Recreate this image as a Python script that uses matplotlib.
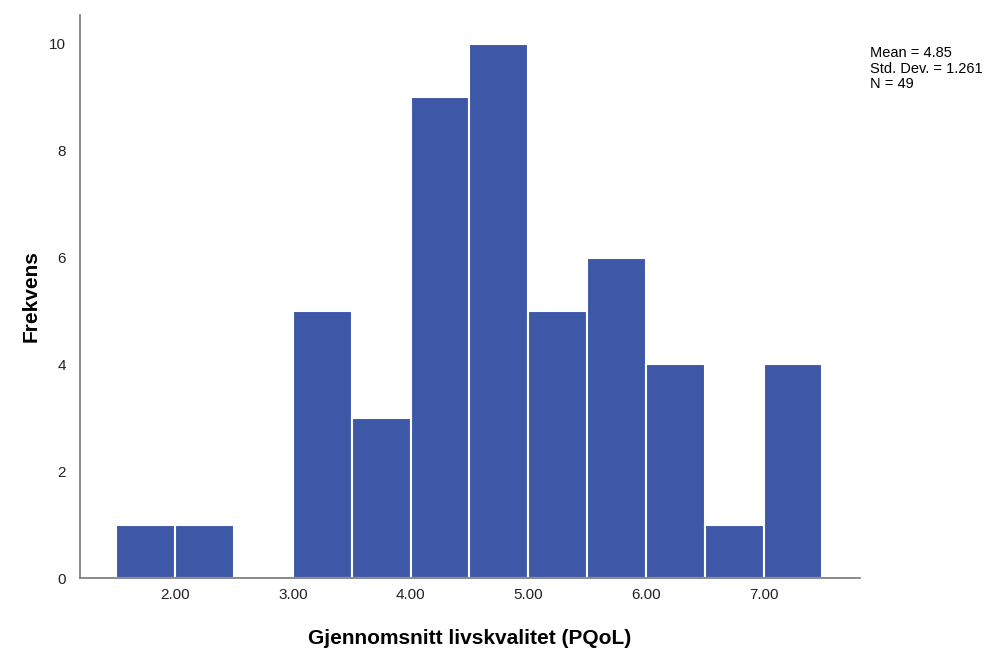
import matplotlib.pyplot as plt
import numpy as np

# histogram bins (left edges) and counts
bin_left = [1.5, 2.0, 2.5, 3.0, 3.5, 4.0, 4.5, 5.0, 5.5, 6.0, 6.5, 7.0]
counts = [1, 1, 0, 5, 3, 9, 10, 5, 6, 4, 1, 4]
bin_width = 0.5

x_ticks = [2.0, 3.0, 4.0, 5.0, 6.0, 7.0]
x_labels = ['2.00', '3.00', '4.00', '5.00', '6.00', '7.00']
y_ticks = [0, 2, 4, 6, 8, 10]

stats_text = 'Mean = 4.85\nStd. Dev. = 1.261\nN = 49'

plt.rcParams['font.family'] = ['Liberation Sans', 'DejaVu Sans']

fig = plt.figure(figsize=(9.9, 6.5), dpi=100)
ax = fig.add_axes([80 / 990, 72 / 650, 780 / 990, 563 / 650])

ax.bar(bin_left, counts, width=bin_width, align='edge',
       color='#3e58a8', edgecolor='white', linewidth=1.5)

ax.set_xlim(1.19, 7.82)
ax.set_ylim(0, 10.54)
ax.set_xticks(x_ticks)
ax.set_xticklabels(x_labels)
ax.set_yticks(y_ticks)
ax.tick_params(length=0, labelsize=11, colors='#222222')
ax.tick_params(axis='x', pad=7)
ax.tick_params(axis='y', pad=10)

for side in ['top', 'right']:
    ax.spines[side].set_visible(False)
for side in ['left', 'bottom']:
    ax.spines[side].set_color('#777777')
    ax.spines[side].set_linewidth(1.2)

ax.set_xlabel('Gjennomsnitt livskvalitet (PQoL)', fontsize=15, fontweight='bold', labelpad=20)
ax.set_ylabel('Frekvens', fontsize=15, fontweight='bold', labelpad=6)

fig.text(870 / 990, 1 - 46 / 650, stats_text, fontsize=10.5, va='top', ha='left',
         linespacing=1.15)

plt.savefig('out.png')
plt.close()
